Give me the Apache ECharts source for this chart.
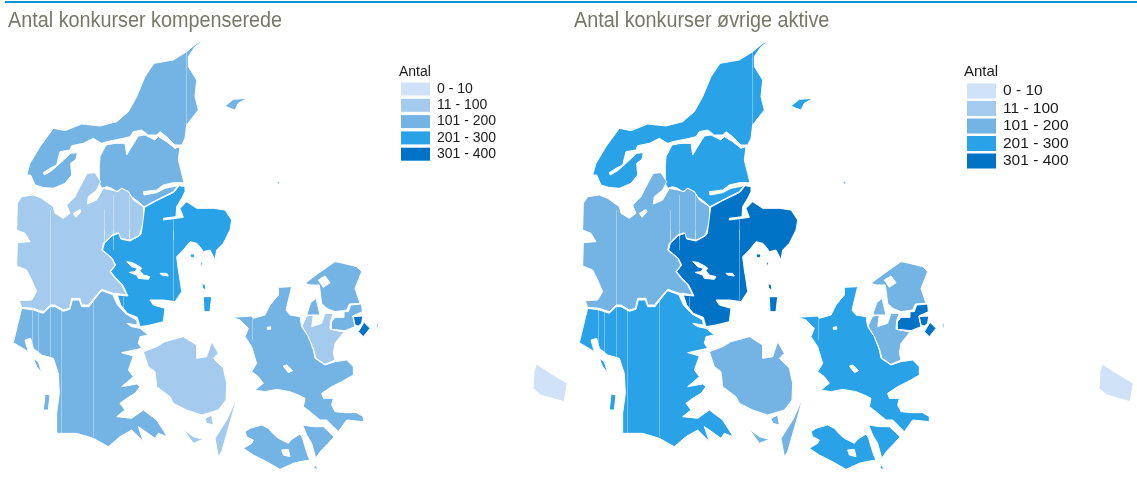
<!DOCTYPE html>
<html><head><meta charset="utf-8">
<style>html,body{margin:0;padding:0;background:#fff}#c{width:1137px;height:486px}</style>
<script src="https://cdn.jsdelivr.net/npm/echarts@6/dist/echarts.min.js"></script>
</head><body><div id="c"></div>
<script>
// ---------- data ----------
const regionNames = ['Nordjylland','Vestjylland','Østjylland','Sydjylland','Fyn','Vest- og Sydsjælland','Østsjælland','Nordsjælland','Københavns omegn','København by','Bornholm'];
const valuesKompenserede = [150, 80, 250, 170, 90, 180, 70, 160, 130, 340, 6];
const valuesOvrige       = [260, 190, 350, 280, 170, 270, 150, 170, 340, 380, 8];
const binLabels = ['0 - 10','11 - 100','101 - 200','201 - 300','301 - 400'];
const binLow  = [0, 11, 101, 201, 301];
const binHigh = [10, 100, 200, 300, 400];
const binColors = ['#cfe2f7','#a4cbee','#74b4e4','#29a2e8','#0073c6'];
const titleLeft = 'Antal konkurser kompenserede';
const titleRight = 'Antal konkurser øvrige aktive';
const legendTitle = 'Antal';

// outlines in three reading frames
const z1 = p => p.map(([x,y]) => [x/3, -y/3]);
const z2 = p => p.map(([x,y]) => [x/3, -(230+y/3)]);
const z3 = p => p.map(([x,y]) => [210+x/3, -(230+y/3)]);
const z6 = p => p.map(([x,y]) => [234+x/3, -(240+y/3)]);

const shapeNord = [
 z1([[612,120],[590,130],[560,155],[520,180],[462,190],[435,230],[410,290],[385,335],[350,365],[300,378],[245,372],[195,392],[160,385],[120,440],[90,490],[80,525],[92,525],[105,555],[128,562],[160,565],[195,550],[215,525],[212,490],[228,478],[232,458],[212,460],[180,490],[155,512],[133,525],[130,518],[150,505],[170,495],[180,455],[210,450],[215,437],[250,430],[280,415],[305,430],[320,425],[370,415],[390,410],[400,395],[425,390],[445,405],[470,405],[480,395],[500,410],[525,435],[545,435],[555,415],[560,375],[595,330],[585,290],[590,240],[565,200],[565,170],[585,140]]),
 z1([[298,500],[300,470],[318,435],[345,430],[375,430],[380,465],[395,440],[415,408],[435,405],[465,420],[475,410],[500,425],[525,445],[540,440],[535,480],[545,520],[552,548],[520,548],[490,555],[470,570],[430,575],[432,585],[470,578],[495,565],[530,558],[535,555],[520,575],[470,600],[432,620],[415,605],[395,590],[385,575],[365,565],[350,575],[335,565],[320,560],[305,565],[298,550]]),
 z1([[675,318],[700,298],[742,295],[715,310],[705,330],[690,325]])
];
const shapeVest = [
 [...z1([[52,610],[65,590],[100,585],[125,595],[160,620],[165,640],[190,655],[210,640],[200,615],[225,590],[240,560],[262,520],[285,518],[302,545],[290,570],[265,590],[262,612],[290,600],[310,565],[335,570],[355,575],[365,565],[385,575],[400,600],[430,620],[432,660],[420,700]]),
  ...z2([[415,18],[390,30],[360,25],[355,8],[335,15],[310,40],[305,60],[335,85],[345,105],[330,125],[345,145],[365,165],[380,195],[350,190],[340,190],[305,178],[290,195],[265,225],[245,225],[240,205],[215,205],[208,235],[190,240],[165,225],[150,225],[130,245],[100,235],[65,232],[58,212],[95,210],[110,185],[95,150],[80,120],[50,108],[52,38],[90,35],[75,10],[50,0]])]
];
const holeVest = z1([[220,640],[240,628],[243,635],[228,652]]);
const shapeOst = [
 [...z1([[434,622],[470,602],[522,577],[537,557],[555,560],[555,575],[545,595],[530,620],[528,650],[490,655],[490,660],[550,652],[540,625],[560,605],[590,625],[640,625],[675,630],[695,660]]),
  ...z2([[690,0],[670,40],[650,60],[645,90],[630,60],[610,65],[600,50],[590,40],[570,35],[550,60],[530,80],[535,120],[540,150],[545,185],[525,215],[490,210],[450,210],[460,225],[495,235],[490,275],[450,285],[420,290],[412,262],[382,250],[362,225],[352,195],[384,198],[368,165],[347,143],[332,125],[347,105],[337,85],[308,60],[313,40],[337,17],[357,10],[362,27],[390,33],[418,18]]),
  ...z1([[424,700]])],
 z2([[610,200],[635,200],[630,245],[612,245]]),
 z2([[606,160],[616,165],[618,180],[608,175]]),
 z2([[570,72],[585,72],[582,84],[572,82]]),
 z2([[600,95],[608,98],[604,110]]),
 z1([[828,550],[840,543],[838,552]])
];
const holesOst = [
 z2([[380,95],[395,97],[420,110],[425,115],[420,122],[430,135],[450,140],[445,148],[415,145],[410,135],[395,130],[388,127],[405,125],[412,115],[395,110]]),
 z2([[480,130],[500,130],[505,138],[485,135]])
];
const shapeSyd = [
 z2([[65,235],[100,240],[130,250],[150,230],[165,230],[190,244],[210,238],[217,210],[238,210],[245,230],[267,230],[290,200],[305,182],[338,194],[353,226],[378,252],[410,270],[412,285],[380,280],[395,290],[420,295],[445,315],[420,320],[415,340],[425,355],[365,368],[400,378],[385,420],[400,440],[365,470],[410,462],[420,470],[405,490],[380,505],[360,520],[375,540],[350,560],[395,565],[430,540],[470,570],[502,620],[475,610],[465,625],[430,600],[415,590],[430,635],[395,600],[360,620],[325,650],[280,625],[230,610],[170,610],[170,550],[178,490],[175,430],[160,385],[125,375],[100,355],[92,325],[75,330],[85,365],[40,338]]),
 z2([[100,385],[115,395],[125,428],[110,410]]),
 z2([[135,492],[150,495],[145,540],[130,540]])
];
const shapeFyn = [
 z2([[430,365],[470,350],[495,335],[550,320],[590,345],[590,385],[620,380],[635,335],[655,370],[640,385],[670,415],[680,460],[678,510],[655,540],[605,555],[560,540],[520,520],[510,500],[470,470],[465,425],[445,410]]),
 z2([[710,505],[695,560],[665,665],[655,680],[645,625],[680,570]]),
 z2([[550,598],[580,620],[610,628],[580,640]]),
 z2([[615,565],[635,555],[640,585],[620,580]])
];
const shapeVS = [
 z3([[65,262],[125,258],[130,265],[165,255],[180,225],[205,195],[205,172],[245,170],[240,190],[228,240],[240,255],[270,260],[275,290],[295,320],[310,360],[315,385],[345,405],[375,395],[410,390],[430,410],[430,435],[395,455],[365,470],[335,490],[340,505],[370,505],[365,525],[375,545],[405,548],[440,548],[460,560],[460,575],[410,570],[385,605],[370,590],[350,570],[330,570],[300,545],[280,530],[285,505],[265,495],[240,485],[200,478],[165,485],[135,480],[160,460],[145,440],[125,425],[140,400],[125,350],[105,320],[115,295],[90,270]]),
 z3([[278,585],[310,590],[340,590],[372,620],[355,640],[335,660],[320,680],[312,700],[325,718],[312,716],[316,680],[305,640],[290,615]])
];
const shapeLolland = z3([[105,605],[120,595],[155,585],[175,595],[190,612],[205,625],[235,640],[245,628],[270,612],[278,625],[285,650],[295,680],[300,690],[270,695],[250,700],[210,718],[170,695],[130,675],[100,655],[125,640],[130,630],[110,620]]);
const holeLolland = z3([[215,660],[235,658],[240,680],[220,675]]);
const holesVS = [z3([[172,292],[182,290],[182,298],[172,298]]), z3([[220,408],[230,405],[248,422],[235,428]])];
const shapeOS = [
 z3([[276,288],[290,258],[310,255],[305,290],[335,280],[345,250],[370,250],[362,272],[360,298],[402,306],[375,340],[370,370],[375,390],[345,403],[318,385],[310,355],[295,320]])
];
const shapeNS = [
 z3([[285,160],[325,130],[375,95],[400,100],[440,110],[455,125],[435,175],[450,220],[418,222],[410,240],[375,245],[350,235],[335,220],[328,165],[300,165]]),
 z3([[302,218],[318,205],[330,255],[290,255]])
];
const holeNS = z3([[325,150],[345,138],[360,158],[340,172]]);
const shapeOmegn = [
 z3([[364,276],[375,262],[402,262],[402,245],[415,245],[422,225],[455,222],[457,245],[428,258],[435,290],[405,302],[364,298]])
];
const shapeKbh = [
 z3([[430,260],[458,258],[455,280],[445,288],[435,285]]),
 z3([[462,277],[480,295],[460,320],[445,305]]),
 z3([[500,280],[504,282],[503,295],[499,292]])
];
const shapeBornholm = [
 z6([[907,372],[900,395],[897,445],[920,465],[990,485],[1000,430],[950,400]])
];
// light vertical seams in the source picture
const seams = [
 ...[[560,155,400],[313,630,720],[340,585,720],[388,585,720],[520,650,720]].map(s=>[z1([[s[0],s[1]]])[0],z1([[s[0],s[2]]])[0]]),
 ...[[151,-60,225],[313,0,35],[340,0,60],[388,0,25],[520,0,215],[97,240,340],[115,245,370],[151,228,385],[184,235,610],[280,210,620],[370,200,235],[757,265,330]].map(s=>[z2([[s[0],s[1]]])[0],z2([[s[0],s[2]]])[0]])
];

const area = r => r.reduce((a,p,i)=>{const q=r[(i+1)%r.length];return a+p[0]*q[1]-q[0]*p[1];},0);
const wind = (r,sign) => Math.sign(area(r))===sign ? r : [...r].reverse();
const poly = (shapes, holes) => shapes.map((ring,i) => (i===0 && holes) ? [wind(ring,1),...holes.map(h=>wind(h,-1))] : [wind(ring,1)]);
const geometries = [
 poly(shapeNord), poly(shapeVest,[holeVest]), poly(shapeOst,holesOst), poly(shapeSyd), poly(shapeFyn),
 [...poly(shapeVS,holesVS), ...poly([shapeLolland],[holeLolland])], poly(shapeOS), poly(shapeNS,[holeNS]), poly(shapeOmegn), poly(shapeKbh), poly(shapeBornholm)
];
const closeRing = r => [...r, r[0]];
const geojson = {type:'FeatureCollection', features: regionNames.map((name,i)=>({
  type:'Feature', properties:{name},
  geometry:{type:'MultiPolygon', coordinates: geometries[i].map(p=>p.map(closeRing))}
}))};
echarts.registerMap('dk', geojson);

const allPts = geometries.flat(3);
const minX = Math.min(...allPts.map(p=>p[0])), maxX = Math.max(...allPts.map(p=>p[0]));
const minY = Math.min(...allPts.map(p=>-p[1])), maxY = Math.max(...allPts.map(p=>-p[1]));
const panelOffset = 566;

const geoFor = dx => ({
  map:'dk', roam:false, silent:true, aspectScale:1,
  left:minX+dx, top:minY, width:maxX-minX, height:maxY-minY,
  label:{show:false}, emphasis:{disabled:true}, select:{disabled:true},
  itemStyle:{areaColor:'#74b4e4', borderColor:'#ffffff', borderWidth:1}
});
const mapSeries = (values, geoIndex) => ({
  type:'map', geoIndex, silent:true,
  data: regionNames.map((name,i)=>({name, value:values[i]}))
});
const seamSeries = geoIndex => ({
  type:'lines', coordinateSystem:'geo', geoIndex, silent:true, z:5, polyline:false,
  lineStyle:{color:'rgba(255,255,255,0.35)', width:1, opacity:1, curveness:0},
  data: seams.map(c=>({coords:c}))
});
const pieces = binLabels.map((label,i)=>({min:binLow[i], max:binHigh[i], label, color:binColors[i]}));
const legendFor = (seriesIndex,left,top,gap,h,fs) => ({
  type:'piecewise', seriesIndex, left, top, orient:'vertical', inverse:true, align:'left', itemSymbol:'rect',
  itemWidth:29, itemHeight:h, itemGap:gap, textGap:7, selectedMode:false, hoverLink:false,
  pieces, padding:0, textStyle:{color:'#1a1a1a', fontSize:fs, fontFamily:'Liberation Sans'}
});
const heading = (text,x) => ({type:'text',x,y:10,scaleX:0.9,silent:true,
  style:{text,fill:'#77776a',font:'22px "Liberation Sans"'}});
const legendHeading = (text,left,top,fs) => ({text,left,top,padding:0,
  textStyle:{color:'#1a1a1a',fontSize:fs,fontWeight:'normal',fontFamily:'Liberation Sans'}});

const chart = echarts.init(document.getElementById('c'),null,{renderer:'canvas'});
chart.setOption({
  animation:false, backgroundColor:'#fff',
  title:[legendHeading(legendTitle,399,65,14),legendHeading(legendTitle,964,64,15)],
  geo:[geoFor(0),geoFor(panelOffset)],
  visualMap:[legendFor(0,401,82,2.3,13,14),legendFor(1,967,83,1.5,15,15.5)],
  graphic:[{type:'rect',x:5,y:1,shape:{width:1132,height:2},style:{fill:'#0d94d6'},silent:true},
           heading(titleLeft,8),heading(titleRight,574)],
  series:[mapSeries(valuesKompenserede,0),mapSeries(valuesOvrige,1),seamSeries(0),seamSeries(1)]
});
</script></body></html>
